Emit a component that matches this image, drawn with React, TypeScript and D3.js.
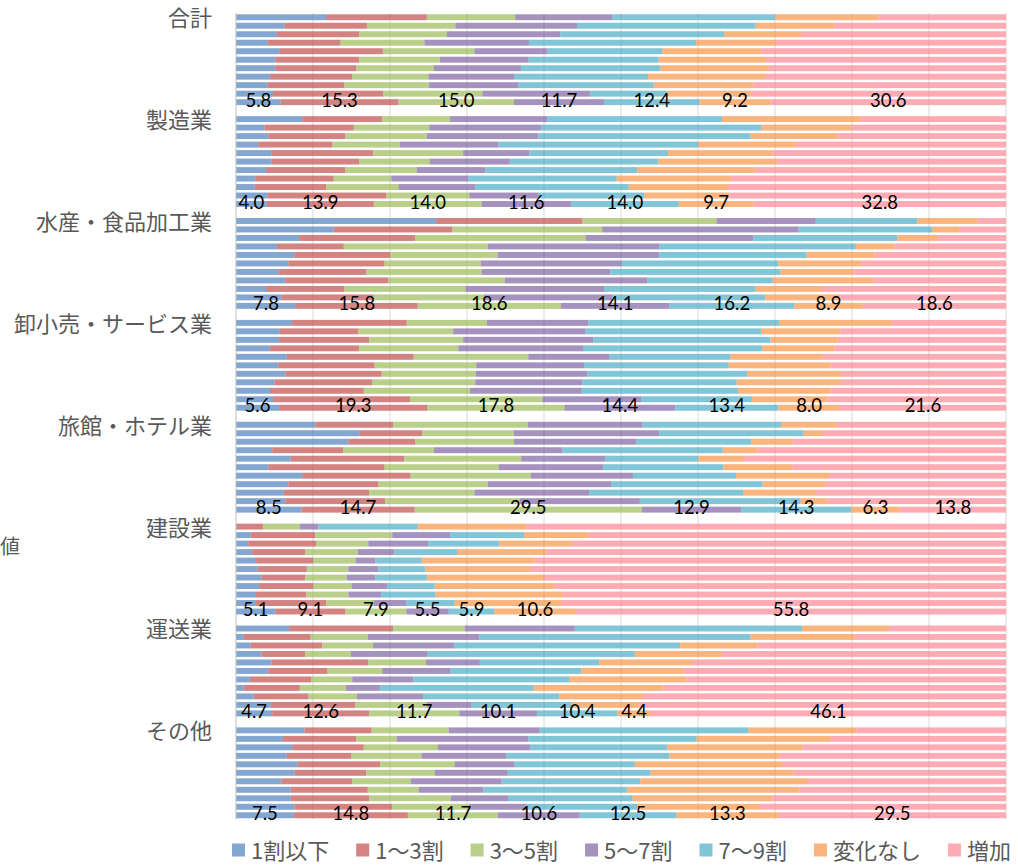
import React, { useEffect, useRef } from "react";
import * as d3 from "d3";

const groupNames = ["合計", "製造業", "水産・食品加工業", "卸小売・サービス業", "旅館・ホテル業", "建設業", "運送業", "その他"];
const seriesNames = ["1割以下", "1〜3割", "3〜5割", "5〜7割", "7〜9割", "変化なし", "増加"];
const seriesColors = ["#4F81BD", "#C0504D", "#9BBB59", "#8064A2", "#4BACC6", "#F79646", "#FF8795"];
const xTicks = [0, 0.1, 0.2, 0.3, 0.4, 0.5, 0.6, 0.7, 0.8, 0.9, 1.0];
const axisTitle = "値";

const totalRows = [
  [11.7, 13.1, 11.5, 12.6, 21.2, 13.4, 16.6],
  [6.3, 10.7, 11.5, 15.8, 23.2, 10.2, 22.3],
  [5.3, 10.7, 11.4, 14.7, 21.3, 10.0, 26.6],
  [4.1, 9.5, 10.9, 13.6, 21.7, 10.4, 29.9],
  [5.7, 13.4, 11.9, 9.5, 14.9, 12.9, 31.8],
  [5.1, 10.9, 10.5, 11.5, 16.9, 13.9, 31.2],
  [5.1, 10.5, 10.1, 11.3, 18.1, 14.1, 30.8],
  [4.4, 10.7, 9.9, 11.1, 17.4, 15.2, 31.3],
  [4.1, 10.0, 11.0, 11.6, 17.6, 13.0, 32.8],
  [4.8, 14.3, 12.9, 14.0, 10.0, 10.8, 33.2],
  [5.8, 15.3, 15.0, 11.7, 12.4, 9.2, 30.6],
];
const manufacturingRows = [
  [8.6, 10.4, 8.8, 12.6, 22.7, 18.0, 18.9],
  [3.7, 11.6, 9.8, 14.5, 28.6, 11.7, 20.1],
  [4.2, 10.0, 10.6, 14.5, 27.6, 11.3, 21.9],
  [2.9, 9.6, 8.8, 12.8, 25.9, 12.7, 27.3],
  [4.6, 13.2, 11.7, 8.6, 18.0, 13.7, 30.2],
  [4.6, 11.4, 9.2, 10.4, 19.3, 15.5, 29.7],
  [3.9, 10.3, 9.3, 8.9, 19.7, 15.4, 32.5],
  [2.5, 10.2, 7.5, 10.0, 19.3, 14.9, 35.7],
  [2.4, 9.3, 9.4, 10.0, 19.9, 12.9, 36.1],
  [4.1, 15.4, 10.8, 9.0, 13.7, 11.1, 35.9],
  [4.0, 13.9, 14.0, 11.6, 14.0, 9.7, 32.8],
];
const foodRows = [
  [26.0, 19.0, 17.4, 12.9, 13.2, 7.8, 3.7],
  [12.7, 15.4, 19.5, 25.5, 17.4, 3.6, 6.0],
  [8.2, 15.1, 22.1, 21.8, 18.7, 5.3, 8.8],
  [5.3, 8.7, 18.7, 22.3, 25.5, 5.0, 14.5],
  [7.6, 12.4, 14.0, 21.0, 19.1, 8.8, 17.1],
  [6.8, 12.5, 12.5, 18.3, 20.3, 10.8, 18.8],
  [5.5, 11.4, 15.0, 16.7, 22.1, 9.5, 19.8],
  [6.4, 13.4, 15.1, 18.5, 16.3, 13.1, 17.2],
  [3.9, 10.2, 15.7, 18.0, 19.7, 8.6, 23.9],
  [5.9, 12.0, 14.3, 16.7, 19.9, 9.8, 21.5],
  [7.8, 15.8, 18.6, 14.1, 16.2, 8.9, 18.6],
];
const retailRows = [
  [7.3, 14.9, 10.4, 13.2, 24.8, 14.7, 14.8],
  [5.7, 10.2, 12.3, 17.2, 22.8, 10.3, 21.5],
  [5.6, 11.7, 12.2, 16.9, 23.0, 8.7, 21.9],
  [4.4, 11.6, 12.9, 16.3, 23.2, 9.4, 22.3],
  [6.6, 16.5, 14.9, 10.5, 15.8, 12.0, 23.8],
  [5.5, 12.5, 13.2, 14.0, 18.8, 13.2, 22.8],
  [6.4, 12.5, 12.2, 14.5, 20.7, 12.2, 21.4],
  [5.0, 12.7, 13.4, 13.9, 20.1, 13.6, 21.4],
  [4.4, 12.2, 13.8, 14.5, 20.3, 12.0, 22.8],
  [4.8, 17.8, 17.2, 12.8, 14.4, 9.8, 23.2],
  [5.6, 19.3, 17.8, 14.4, 13.4, 8.0, 21.6],
];
const hotelRows = [
  [10.3, 10.1, 17.5, 14.9, 18.0, 7.2, 22.0],
  [16.1, 8.1, 11.9, 18.9, 18.8, 2.5, 23.8],
  [14.6, 8.7, 12.8, 15.9, 14.9, 5.4, 27.7],
  [4.7, 9.2, 11.8, 16.7, 20.8, 4.5, 32.3],
  [7.1, 14.7, 15.2, 10.9, 12.1, 5.9, 34.0],
  [4.2, 15.1, 14.8, 13.6, 15.6, 9.0, 27.7],
  [8.6, 14.1, 15.6, 13.3, 13.4, 12.1, 23.0],
  [6.8, 11.7, 14.2, 16.0, 19.7, 8.1, 23.5],
  [6.2, 11.1, 13.7, 14.9, 20.1, 9.4, 24.7],
  [6.4, 13.0, 17.5, 15.6, 20.9, 3.5, 23.2],
  [8.5, 14.7, 29.5, 12.9, 14.3, 6.3, 13.8],
];
const constructionRows = [
  [0.0, 3.5, 4.8, 2.4, 12.9, 14.1, 62.3],
  [1.9, 8.4, 10.0, 7.5, 9.6, 8.4, 54.2],
  [1.6, 8.8, 6.8, 7.8, 9.2, 9.5, 56.4],
  [2.1, 6.9, 6.8, 4.8, 8.1, 11.6, 59.7],
  [2.6, 7.4, 5.5, 2.6, 6.0, 14.6, 61.2],
  [2.8, 6.4, 5.4, 3.9, 6.1, 13.6, 61.8],
  [3.3, 5.7, 5.4, 3.7, 6.7, 15.2, 60.0],
  [3.0, 7.0, 5.0, 4.6, 6.2, 15.6, 58.6],
  [2.6, 6.5, 5.5, 4.2, 7.1, 16.5, 57.5],
  [2.6, 9.1, 6.2, 4.2, 6.3, 13.9, 57.7],
  [5.1, 9.1, 7.9, 5.5, 5.9, 10.6, 55.8],
];
const transportRows = [
  [6.9, 13.5, 9.3, 14.3, 29.5, 11.3, 15.2],
  [1.0, 8.7, 7.4, 14.5, 35.2, 13.6, 19.6],
  [1.9, 9.3, 6.6, 10.5, 29.4, 10.0, 32.3],
  [3.3, 5.7, 5.9, 10.0, 26.9, 11.3, 36.9],
  [4.6, 12.6, 7.5, 7.0, 15.5, 12.1, 40.8],
  [4.2, 7.7, 7.1, 8.9, 17.0, 13.3, 41.9],
  [1.8, 8.0, 5.3, 7.9, 20.3, 15.2, 41.5],
  [1.0, 7.3, 6.0, 4.4, 20.0, 16.9, 44.5],
  [2.3, 7.1, 6.3, 8.6, 17.7, 10.8, 47.2],
  [4.5, 11.0, 9.3, 5.8, 13.0, 8.7, 47.7],
  [4.7, 12.6, 11.7, 10.1, 10.4, 4.4, 46.1],
];
const otherRows = [
  [8.9, 8.7, 10.0, 11.8, 27.1, 14.0, 19.4],
  [6.1, 9.5, 5.3, 17.1, 21.9, 17.4, 22.8],
  [7.3, 9.3, 9.6, 12.0, 17.8, 17.6, 26.4],
  [6.6, 8.4, 9.1, 11.0, 21.2, 14.3, 29.4],
  [8.0, 10.7, 9.7, 7.8, 15.6, 19.1, 29.1],
  [7.6, 9.3, 8.9, 9.5, 18.5, 18.6, 27.6],
  [5.9, 9.2, 7.6, 11.8, 18.0, 21.8, 25.7],
  [7.1, 10.0, 6.6, 8.4, 18.6, 22.4, 26.8],
  [7.1, 10.2, 10.6, 7.5, 16.1, 18.1, 30.4],
  [7.6, 12.7, 10.0, 7.4, 14.5, 16.0, 32.0],
  [7.5, 14.8, 11.7, 10.6, 12.5, 13.3, 29.5],
];

const groupRows = [totalRows, manufacturingRows, foodRows, retailRows, hotelRows, constructionRows, transportRows, otherRows];

const W = 1018;
const H = 865;
const FONT_JP = "'Noto Sans CJK JP', 'Noto Sans', sans-serif";
const FONT_NUM = "Lato, 'Noto Sans', sans-serif";

export default function App() {
  const ref = useRef<SVGSVGElement | null>(null);

  useEffect(() => {
    document.body.style.margin = "0";
    const svg = d3.select(ref.current);
    svg.selectAll("*").remove();

    const slotsPerGroup = groupRows[0].length + 1;
    const nSlots = groupRows.length * slotsPerGroup - 1;

    type Rec = { slot: number; group: number; row: number; last: boolean; [k: string]: number | boolean };
    const table: Rec[] = [];
    groupRows.forEach((rows, g) => {
      rows.forEach((vals, i) => {
        const rec: Rec = { slot: g * slotsPerGroup + i, group: g, row: i, last: i === rows.length - 1 };
        seriesNames.forEach((s, k) => (rec[s] = vals[k]));
        table.push(rec);
      });
    });

    const x = d3.scaleLinear().domain([0, 1]).range([236, 1006]);
    const y = d3
      .scaleBand<number>()
      .domain(d3.range(nSlots))
      .range([13, 819.5])
      .paddingInner(0.3)
      .paddingOuter(0.15);

    const stack = d3
      .stack<Rec>()
      .keys(seriesNames)
      .value((d, k) => d[k] as number)
      .offset(d3.stackOffsetExpand);
    const layers = stack(table);

    // gridlines
    svg
      .append("g")
      .selectAll("line")
      .data(xTicks.slice(1))
      .join("line")
      .attr("x1", (d) => x(d))
      .attr("x2", (d) => x(d))
      .attr("y1", 13)
      .attr("y2", 819.5)
      .attr("stroke", "#d9d9d9")
      .attr("stroke-width", 1);

    // bars
    const gBars = svg.append("g");
    layers.forEach((layer, k) => {
      gBars
        .append("g")
        .attr("fill", seriesColors[k])
        .attr("fill-opacity", 0.7)
        .selectAll("rect")
        .data(layer)
        .join("rect")
        .attr("x", (d) => x(d[0]))
        .attr("width", (d) => Math.max(0, x(d[1]) - x(d[0])))
        .attr("y", (d) => y(d.data.slot) as number)
        .attr("height", y.bandwidth());
    });

    // axis line
    svg
      .append("line")
      .attr("x1", x(0))
      .attr("x2", x(0))
      .attr("y1", 13)
      .attr("y2", 819.5)
      .attr("stroke", "#bfbfbf")
      .attr("stroke-width", 1);

    // category labels
    svg
      .append("g")
      .selectAll("text")
      .data(groupNames)
      .join("text")
      .attr("x", 212)
      .attr("y", (_, g) => (y(g * slotsPerGroup) as number) + y.bandwidth() / 2 - 1)
      .attr("text-anchor", "end")
      .attr("dominant-baseline", "central")
      .attr("font-family", FONT_JP)
      .attr("font-size", 22)
      .attr("fill", "#595959")
      .text((d) => d);

    // data labels for the last bar of each group
    const fmt = d3.format(".1f");
    const gLab = svg.append("g");
    layers.forEach((layer) => {
      gLab
        .selectAll(null)
        .data(layer.filter((d) => d.data.last))
        .join("text")
        .attr("x", (d) => x((d[0] + d[1]) / 2))
        .attr("y", (d) => (y(d.data.slot) as number) + y.bandwidth() / 2 - 2.5)
        .attr("text-anchor", "middle")
        .attr("dominant-baseline", "central")
        .attr("font-family", FONT_NUM)
        .attr("font-size", 18.5)
        .attr("fill", "#000")
        .text((d) => fmt(d.data[layer.key] as number));
    });

    // axis title
    svg
      .append("text")
      .attr("x", 0)
      .attr("y", 545)
      .attr("text-anchor", "start")
      .attr("dominant-baseline", "central")
      .attr("font-family", FONT_JP)
      .attr("font-size", 20)
      .attr("fill", "#595959")
      .text(axisTitle);

    // legend
    const legend = svg.append("g");
    let lx = 232;
    const ly = 849;
    seriesNames.forEach((name, k) => {
      legend
        .append("rect")
        .attr("x", lx)
        .attr("y", ly - 5.5)
        .attr("width", 13)
        .attr("height", 13)
        .attr("fill", seriesColors[k])
        .attr("fill-opacity", 0.7);
      const t = legend
        .append("text")
        .attr("x", lx + 19)
        .attr("y", ly)
        .attr("dominant-baseline", "central")
        .attr("font-family", FONT_JP)
        .attr("font-size", 22)
        .attr("fill", "#595959")
        .text(name);
      const w = (t.node() as SVGTextElement).getComputedTextLength();
      lx += 19 + w + 27;
    });
  }, []);

  return (
    <svg
      ref={ref}
      width={W}
      height={H}
      style={{ position: "absolute", left: 0, top: 0, background: "#fff" }}
    />
  );
}
